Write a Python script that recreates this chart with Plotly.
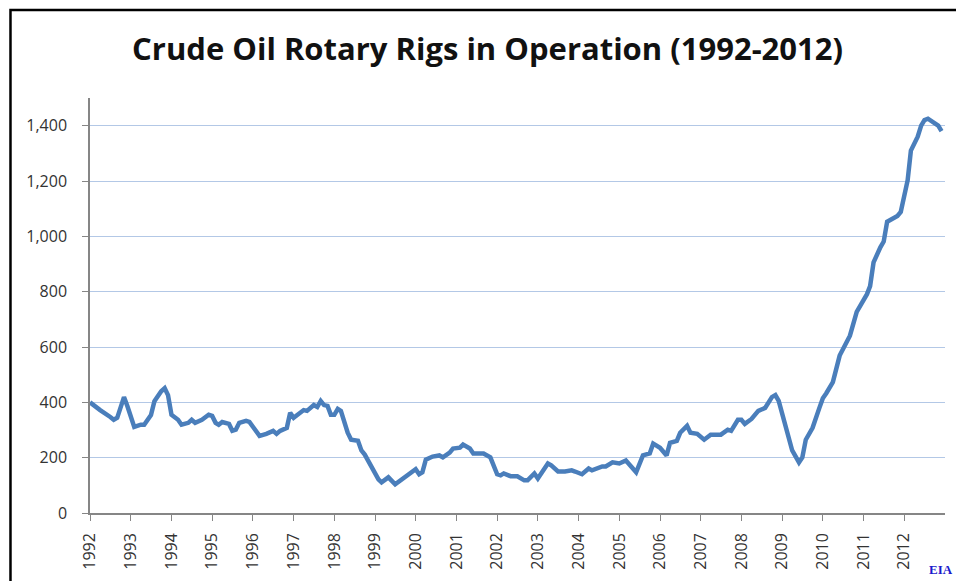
import plotly.graph_objects as go

title_text = "Crude Oil Rotary Rigs in Operation (1992-2012)"

months = [
    "1992-01", "1992-03", "1992-04", "1992-07", "1992-08", "1992-09", "1992-11", "1992-12",
    "1993-02", "1993-04", "1993-05", "1993-07", "1993-08", "1993-10", "1993-11", "1993-12",
    "1994-01", "1994-03", "1994-04", "1994-06", "1994-07", "1994-08", "1994-10", "1994-12",
    "1995-01", "1995-02", "1995-03", "1995-04", "1995-06", "1995-07", "1995-08", "1995-09",
    "1995-11", "1995-12", "1996-02", "1996-03", "1996-05", "1996-07", "1996-08", "1996-09",
    "1996-11", "1996-12", "1997-01", "1997-02", "1997-04", "1997-05", "1997-07", "1997-08",
    "1997-09", "1997-10", "1997-11", "1997-12", "1998-01", "1998-02", "1998-03", "1998-05",
    "1998-06", "1998-08", "1998-09", "1998-10", "1998-12", "1999-02", "1999-03", "1999-05",
    "1999-07", "1999-09", "1999-11", "2000-01", "2000-02", "2000-03", "2000-04", "2000-06",
    "2000-08", "2000-09", "2000-11", "2000-12", "2001-02", "2001-03", "2001-05", "2001-06",
    "2001-09", "2001-11", "2002-01", "2002-02", "2002-03", "2002-05", "2002-07", "2002-09",
    "2002-10", "2002-12", "2003-01", "2003-03", "2003-04", "2003-05", "2003-07", "2003-09",
    "2003-11", "2003-12", "2004-02", "2004-04", "2004-05", "2004-08", "2004-09", "2004-11",
    "2005-01", "2005-03", "2005-04", "2005-06", "2005-08", "2005-10", "2005-11", "2006-01",
    "2006-03", "2006-04", "2006-06", "2006-07", "2006-09", "2006-10", "2006-12", "2007-02",
    "2007-04", "2007-07", "2007-09", "2007-10", "2007-12", "2008-01", "2008-02", "2008-04",
    "2008-06", "2008-08", "2008-10", "2008-11", "2008-12", "2009-02", "2009-04", "2009-06",
    "2009-07", "2009-08", "2009-10", "2009-12", "2010-01", "2010-02", "2010-04", "2010-06",
    "2010-09", "2010-11", "2011-02", "2011-03", "2011-04", "2011-06", "2011-07", "2011-08",
    "2011-11", "2011-12", "2012-02", "2012-03", "2012-05", "2012-06", "2012-07", "2012-08",
    "2012-10", "2012-11", "2012-12",
]

rigs = [
    400, 380, 372, 347, 337, 344, 419, 387,
    311, 319, 319, 354, 404, 440, 451, 426,
    355, 337, 319, 326, 337, 326, 337, 355,
    351, 326, 319, 329, 322, 297, 301, 326,
    333, 329, 290, 279, 286, 297, 286, 297,
    308, 362, 344, 355, 372, 369, 390, 383,
    405, 390, 387, 355, 355, 376, 369, 290,
    265, 261, 226, 211, 165, 122, 111, 129,
    104, 122, 140, 158, 140, 147, 193, 204,
    208, 201, 218, 233, 236, 247, 233, 215,
    215, 201, 140, 136, 143, 133, 133, 118,
    118, 143, 125, 158, 179, 172, 150, 150,
    154, 150, 140, 161, 154, 168, 168, 183,
    179, 190, 175, 147, 208, 215, 251, 236,
    208, 254, 261, 290, 315, 290, 286, 265,
    283, 283, 301, 297, 337, 337, 322, 340,
    369, 380, 419, 426, 405, 319, 226, 183,
    201, 265, 308, 380, 415, 433, 473, 569,
    641, 727, 791, 820, 906, 960, 981, 1053,
    1074, 1088, 1203, 1310, 1360, 1400, 1420, 1425,
    1410, 1400, 1380,
]

year_ticks = [str(y) for y in range(1992, 2013)]
y_ticks = [0, 200, 400, 600, 800, 1000, 1200, 1400]
y_tick_text = ["0", "200", "400", "600", "800", "1,000", "1,200", "1,400"]

fig = go.Figure()
fig.add_trace(go.Scatter(
    x=months, y=rigs, mode="lines",
    line=dict(color="#4A7EBB", width=4.5),
    hoverinfo="x+y",
))

fig.update_layout(
    width=956, height=581,
    margin=dict(l=90, r=11, t=98, b=65),
    paper_bgcolor="white", plot_bgcolor="white",
    showlegend=False,
    title=dict(
        text=title_text, x=0.51, xanchor="center", y=0.915, yanchor="middle",
        font=dict(family="Open Sans", size=31, color="#111111", weight=700),
    ),
    font=dict(family="Open Sans", size=15, color="#333333"),
)

fig.update_xaxes(
    type="date",
    range=["1992-01-01", "2013-01-01"],
    tickvals=[y + "-01-01" for y in year_ticks],
    ticktext=year_ticks,
    tickangle=-90,
    ticks="outside", ticklen=6, tickcolor="#868686",
    ticklabelstandoff=6,
    showline=True, linecolor="#868686", linewidth=1.5,
    showgrid=False, zeroline=False,
    tickfont=dict(family="Open Sans", size=16, color="#333333"),
)

fig.update_yaxes(
    range=[0, 1500],
    tickvals=y_ticks, ticktext=y_tick_text,
    ticks="outside", ticklen=6, tickcolor="#868686",
    ticklabelstandoff=12,
    showline=True, linecolor="#868686", linewidth=1.5,
    showgrid=True, gridcolor="#B3C8E6", gridwidth=1,
    zeroline=False,
    tickfont=dict(family="Open Sans", size=16, color="#333333"),
)

fig.add_shape(
    type="rect", xref="paper", yref="paper",
    x0=-0.093, x1=1.05, y0=-0.25, y1=1.212,
    line=dict(color="#000000", width=2.5), fillcolor="rgba(0,0,0,0)",
    layer="above",
)

fig.add_annotation(
    text="<b>EIA</b>", xref="paper", yref="paper",
    x=1.0117, y=-0.136, xanchor="right", yanchor="middle",
    showarrow=False,
    font=dict(family="Liberation Serif", size=13, color="#1A1ACC"),
)

fig.write_html(
    "out.html",
    config={"displayModeBar": False},
    post_script="document.body.style.margin='0';",
)
